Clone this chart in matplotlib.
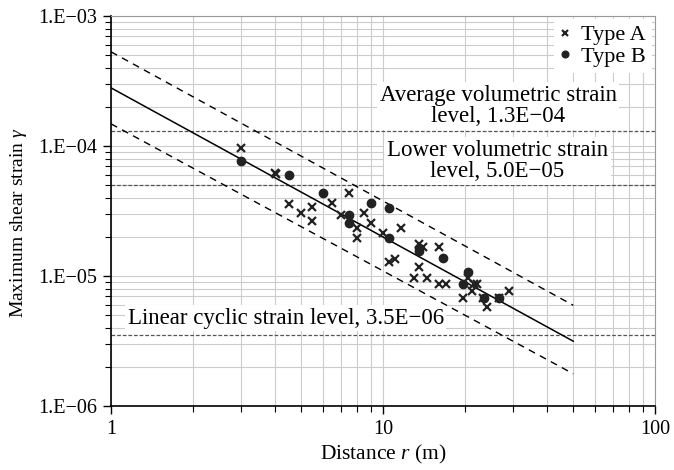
import matplotlib
matplotlib.use("Agg")
import matplotlib.pyplot as plt
from matplotlib.ticker import LogLocator, FixedLocator, FixedFormatter, NullFormatter

plt.rcParams['font.family'] = ['Liberation Serif', 'DejaVu Serif']
plt.rcParams['mathtext.fontset'] = 'custom'
plt.rcParams['mathtext.rm'] = 'Liberation Serif'
plt.rcParams['mathtext.it'] = 'Liberation Serif:italic'

# Type A records (distance m, max shear strain)
type_a_r = [3.0, 4.0, 4.05, 4.5, 5.0, 5.5, 5.5, 6.5, 7.0, 7.5, 8.0, 8.0, 8.5, 9.0,
            10.0, 11.6, 11.1, 10.5, 13.6, 14.0, 16.1, 13.6, 13.0, 14.5, 16.1, 17.1,
            20.6, 21.3, 21.6, 22.2, 19.6, 23.2, 24.2, 29.1, 26.7]
type_a_g = [9.7e-5, 6.2e-5, 6.1e-5, 3.58e-5, 3.05e-5, 3.42e-5, 2.65e-5, 3.65e-5, 2.95e-5,
            4.35e-5, 2.34e-5, 1.96e-5, 3.05e-5, 2.56e-5, 2.14e-5, 2.34e-5, 1.35e-5, 1.27e-5,
            1.76e-5, 1.67e-5, 1.67e-5, 1.17e-5, 9.7e-6, 9.7e-6, 8.75e-6, 8.75e-6, 9.7e-6,
            7.73e-6, 8.75e-6, 8.75e-6, 6.77e-6, 6.77e-6, 5.78e-6, 7.73e-6, 6.77e-6]

# Type B records
type_b_r = [3.0, 4.5, 6.0, 7.5, 7.5, 9.0, 10.5, 10.5, 13.6, 13.6, 16.6, 20.6, 19.6, 23.5, 26.7]
type_b_g = [7.7e-5, 6.0e-5, 4.35e-5, 2.95e-5, 2.56e-5, 3.65e-5, 3.33e-5, 1.96e-5,
            1.64e-5, 1.56e-5, 1.38e-5, 1.07e-5, 8.75e-6, 6.77e-6, 6.77e-6]

# regression line and bounds (end points)
fit_r = [1, 50]
fit_mid = [2.8e-4, 3.15e-6]
fit_upper = [5.3e-4, 5.95e-6]
fit_lower = [1.48e-4, 1.77e-6]

# strain thresholds
avg_vol = 1.3e-4
low_vol = 5.0e-5
lin_cyc = 3.5e-6

fig = plt.figure(figsize=(6.74, 4.70), dpi=100)
ax = fig.add_axes([0.1647, 0.1362, 0.8073, 0.8298])
ax.set_xscale('log')
ax.set_yscale('log')
ax.set_xlim(1, 100)
ax.set_ylim(1e-6, 1e-3)

ax.grid(True, which='both', color='#cccccc', linewidth=0.8, zorder=0)
ax.set_axisbelow(True)

ax.axhline(avg_vol, color='#555555', linestyle=(0, (3, 1.5)), linewidth=0.9, zorder=2)
ax.axhline(low_vol, color='#555555', linestyle=(0, (3, 1.5)), linewidth=0.9, zorder=2)
ax.axhline(lin_cyc, color='#555555', linestyle=(0, (3, 1.5)), linewidth=0.9, zorder=2)

box = dict(facecolor='white', edgecolor='none', pad=2)
ax.text(26.5, 2.03e-4, 'Average volumetric strain\nlevel, 1.3E\u221204', ha='center', va='center',
        fontsize=16.5, linespacing=0.98, bbox=box, zorder=3)
ax.text(26.3, 7.67e-5, 'Lower volumetric strain\nlevel, 5.0E\u221205', ha='center', va='center',
        fontsize=16.5, linespacing=0.98, bbox=box, zorder=3)
ax.text(1.15, 4.75e-6, 'Linear cyclic strain level, 3.5E\u221206', ha='left', va='center',
        fontsize=16.5, bbox=box, zorder=3)

ax.plot(fit_r, fit_mid, color='black', linewidth=1.1, zorder=4)
ax.plot(fit_r, fit_upper, color='black', linewidth=1.0, linestyle=(0, (5, 4)), zorder=4)
ax.plot(fit_r, fit_lower, color='black', linewidth=1.0, linestyle=(0, (5, 4)), zorder=4)

ax.plot(type_a_r, type_a_g, linestyle='none', marker='x', color='#222222',
        markersize=5.5, markeredgewidth=1.6, label='Type A', zorder=5)
ax.plot(type_b_r, type_b_g, linestyle='none', marker='o', color='#222222',
        markersize=6, label='Type B', zorder=5)

leg = ax.legend(loc='upper right', fontsize=16, frameon=True, framealpha=1,
                edgecolor='none', facecolor='white', handlelength=0.5,
                handletextpad=0.5, borderaxespad=0.15, borderpad=0.25,
                labelspacing=0.05, markerscale=0.8)
leg.get_frame().set_linewidth(0)

ax.yaxis.set_major_locator(FixedLocator([1e-6, 1e-5, 1e-4, 1e-3]))
ax.yaxis.set_major_formatter(FixedFormatter(['1.E\u221206', '1.E\u221205', '1.E\u221204', '1.E\u221203']))
ax.yaxis.set_minor_locator(LogLocator(base=10, subs=range(2, 10), numticks=20))
ax.yaxis.set_minor_formatter(NullFormatter())
ax.xaxis.set_major_locator(FixedLocator([1, 10, 100]))
ax.xaxis.set_major_formatter(FixedFormatter(['1', '10', '100']))
ax.xaxis.set_minor_locator(LogLocator(base=10, subs=range(2, 10), numticks=20))
ax.xaxis.set_minor_formatter(NullFormatter())

ax.tick_params(which='major', direction='out', length=6, width=1, labelsize=14.5, pad=4)
ax.tick_params(which='minor', direction='out', length=4, width=0.8)

for s in ['left', 'bottom']:
    ax.spines[s].set_linewidth(1.2)
for s in ['top', 'right']:
    ax.spines[s].set_color('#999999')
    ax.spines[s].set_linewidth(0.8)

ax.set_xlabel('Distance $r$ (m)', fontsize=15.5, labelpad=3)
ax.set_ylabel('Maximum shear strain $\\gamma$', fontsize=14)
ax.yaxis.set_label_coords(-0.15, 0.47)

fig.savefig('out.png', dpi=100)
